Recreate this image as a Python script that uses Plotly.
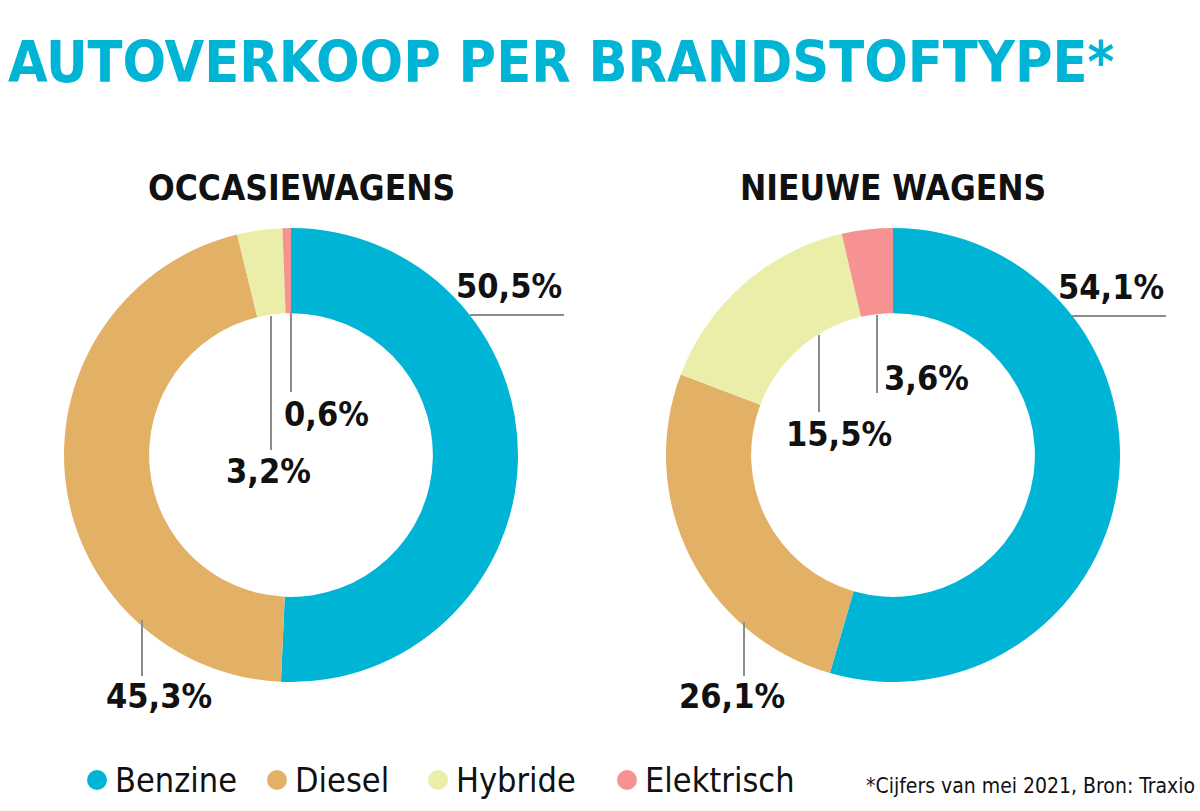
import plotly.graph_objects as go

W, H = 1200, 811

categories = ["Benzine", "Diesel", "Hybride", "Elektrisch"]
colors = ["#00B4D5", "#E3B166", "#EBEEA8", "#F69291"]
occasie_values = [50.5, 45.3, 3.2, 0.6]
nieuwe_values = [54.1, 26.1, 15.5, 3.6]
occasie_labels = ["50,5%", "45,3%", "3,2%", "0,6%"]
nieuwe_labels = ["54,1%", "26,1%", "15,5%", "3,6%"]

FONT = "DejaVu Sans Condensed, Liberation Sans Narrow, sans-serif"


def px(x):
    return x / W


def py(y):
    return 1 - y / H


def pie_domain(cx, cy, r):
    return dict(x=[px(cx - r), px(cx + r)], y=[py(cy + r), py(cy - r)])


fig = go.Figure()
for vals, cx in [(occasie_values, 291), (nieuwe_values, 893)]:
    fig.add_trace(go.Pie(
        labels=categories, values=vals, sort=False, direction="clockwise",
        rotation=0, hole=0.625, textinfo="none", hoverinfo="label+value",
        marker=dict(colors=colors, line=dict(width=0)),
        domain=pie_domain(cx, 455, 227), showlegend=False,
    ))

annotations = []
shapes = []


def label(text, x, y, xanchor):
    annotations.append(dict(text=text, x=px(x), y=py(y), xref="paper", yref="paper",
                            xanchor=xanchor, yanchor="middle", showarrow=False,
                            font=dict(family=FONT, size=34, color="#111111", weight="bold")))


def line(x0, y0, x1, y1):
    shapes.append(dict(type="line", xref="paper", yref="paper", x0=px(x0), y0=py(y0),
                       x1=px(x1), y1=py(y1), line=dict(color="#8C8C8C", width=2)))


# Occasiewagens labels
label(occasie_labels[0], 564, 286, "right"); line(470, 315, 564, 315)
label(occasie_labels[1], 159, 696, "center"); line(142, 620, 142, 676)
label(occasie_labels[2], 268, 471, "center"); line(271, 316, 271, 450)
label(occasie_labels[3], 282, 414, "left"); line(291, 313, 291, 392)
# Nieuwe wagens labels
label(nieuwe_labels[0], 1166, 287, "right"); line(1072, 316, 1166, 316)
label(nieuwe_labels[1], 732, 696, "center"); line(744, 622, 744, 676)
label(nieuwe_labels[2], 839, 434, "center"); line(819, 335, 819, 412)
label(nieuwe_labels[3], 882, 378, "left"); line(877, 315, 877, 393)

# Title and subtitles
annotations.append(dict(text="AUTOVERKOOP PER BRANDSTOFTYPE*", x=px(6), y=py(62), xref="paper",
                        yref="paper", xanchor="left", yanchor="middle", showarrow=False,
                        font=dict(family=FONT, size=57, color="#00B4D5", weight="bold")))
for t, x in [("OCCASIEWAGENS", 301), ("NIEUWE WAGENS", 893)]:
    annotations.append(dict(text=t, x=px(x), y=py(188), xref="paper", yref="paper",
                            xanchor="center", yanchor="middle", showarrow=False,
                            font=dict(family=FONT, size=35, color="#111111", weight="bold")))

# Legend (manual)
legend_x = [97, 277, 438, 627]
for name, col, x in zip(categories, colors, legend_x):
    shapes.append(dict(type="circle", xref="paper", yref="paper", x0=px(x - 10), x1=px(x + 10),
                       y0=py(790), y1=py(770), fillcolor=col, line=dict(width=0)))
    annotations.append(dict(text=name, x=px(x + 16), y=py(780), xref="paper", yref="paper",
                            xanchor="left", yanchor="middle", showarrow=False,
                            font=dict(family=FONT, size=34, color="#111111")))

annotations.append(dict(text="*Cijfers van mei 2021, Bron: Traxio", x=px(1197), y=py(786),
                        xref="paper", yref="paper", xanchor="right", yanchor="middle",
                        showarrow=False, font=dict(family=FONT, size=21, color="#111111")))

fig.update_layout(width=W, height=H, margin=dict(l=0, r=0, t=0, b=0),
                  paper_bgcolor="white", plot_bgcolor="white",
                  annotations=annotations, shapes=shapes, showlegend=False)

fig.write_html("out.html")
